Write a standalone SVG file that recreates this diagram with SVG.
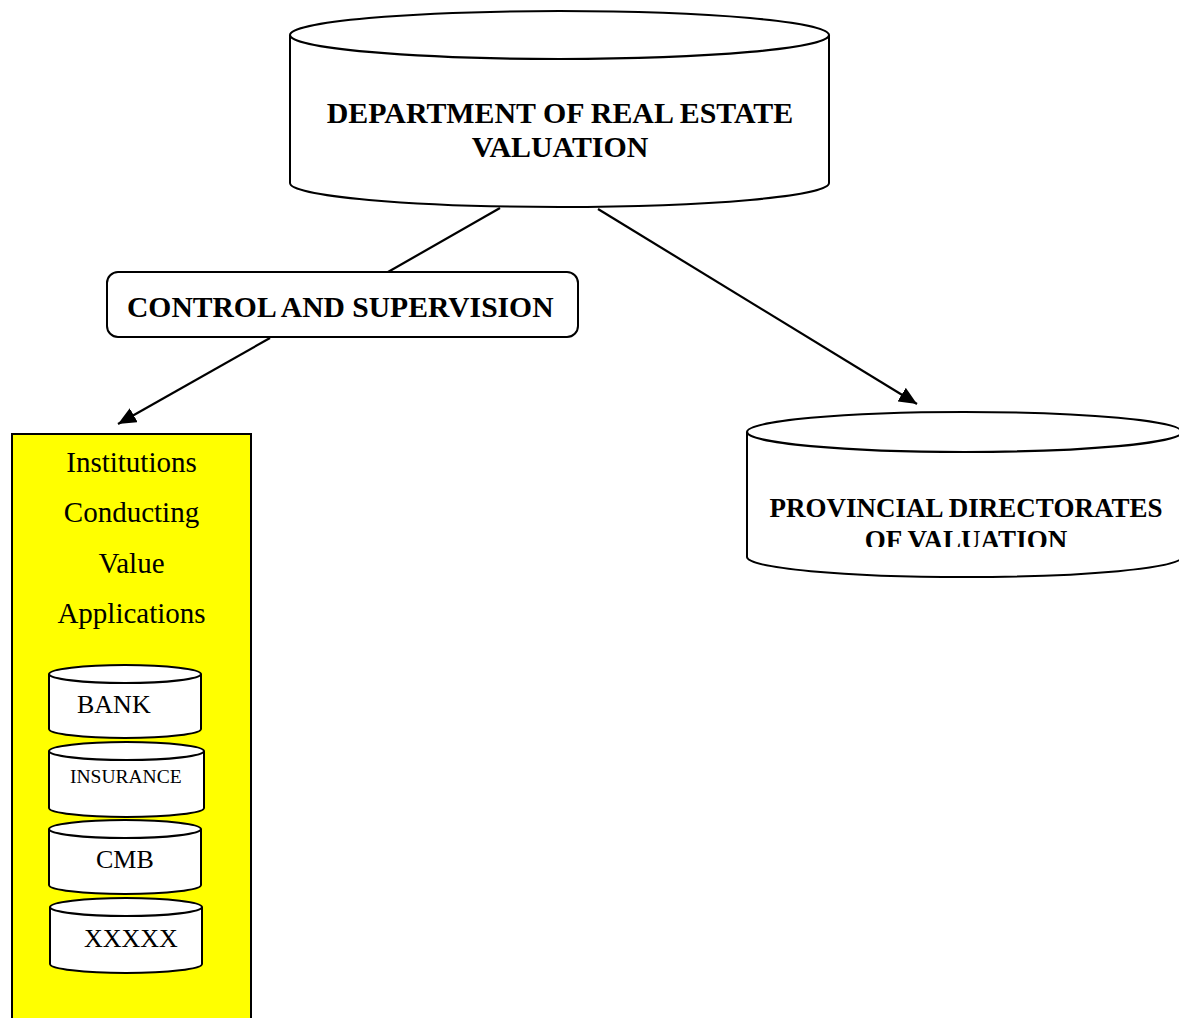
<svg xmlns="http://www.w3.org/2000/svg" width="1179" height="1018" viewBox="0 0 1179 1018">
<style>
.cyl{fill:#fff;stroke:#000;stroke-width:2}
.ln{fill:none;stroke:#000;stroke-width:2.2}
.b{font-family:"Liberation Serif","Times New Roman",serif;font-weight:bold;fill:#000}
.r{font-family:"Liberation Serif","Times New Roman",serif;fill:#000}
</style>
<defs>
<marker id="ah" markerWidth="20" markerHeight="16" refX="18" refY="8" orient="auto" markerUnits="userSpaceOnUse">
<path d="M0,0 L18,8 L0,16 Z" fill="#000"/>
</marker>
<clipPath id="pclip"><rect x="740" y="380" width="439" height="167"/></clipPath>
</defs>
<rect width="1179" height="1018" fill="#fff"/>
<g id="connectors">
<line class="ln" x1="500" y1="208" x2="388" y2="272"/>
<line class="ln" x1="270" y1="338" x2="118" y2="424" marker-end="url(#ah)"/>
<line class="ln" x1="598" y1="209" x2="917" y2="404" marker-end="url(#ah)"/>
</g>
<g id="department">
<path class="cyl" d="M290,35 A269.5,24 0 0,1 829,35 L829,183 A269.5,24 0 0,1 290,183 Z"/>
<path class="ln" d="M290,35 A269.5,24 0 0,0 829,35"/>
<text class="b" font-size="29.9" x="560" y="123" text-anchor="middle">DEPARTMENT OF REAL ESTATE</text>
<text class="b" font-size="29.9" x="560" y="157" text-anchor="middle">VALUATION</text>
</g>
<g id="control">
<rect x="107" y="272" width="471" height="65" rx="11" fill="#fff" stroke="#000" stroke-width="2"/>
<text class="b" font-size="29.6" x="127" y="317">CONTROL AND SUPERVISION</text>
</g>
<g id="provincial">
<path class="cyl" d="M747,432 A217.5,20 0 0,1 1182,432 L1182,557 A217.5,20 0 0,1 747,557 Z"/>
<path class="ln" d="M747,432 A217.5,20 0 0,0 1182,432"/>
<g clip-path="url(#pclip)">
<text class="b" font-size="27" x="966" y="517" text-anchor="middle">PROVINCIAL DIRECTORATES</text>
<text class="b" font-size="27" x="966" y="549" text-anchor="middle">OF VALUATION</text>
</g>
</g>
<g id="institutions">
<rect x="12" y="434" width="239" height="600" fill="#ffff00" stroke="#000" stroke-width="2"/>
<text class="r" font-size="29" x="131.5" y="472" text-anchor="middle">Institutions</text>
<text class="r" font-size="29" x="131.5" y="522" text-anchor="middle">Conducting</text>
<text class="r" font-size="29" x="131.5" y="573" text-anchor="middle">Value</text>
<text class="r" font-size="29" x="131.5" y="623" text-anchor="middle">Applications</text>
</g>
<g id="bank">
<path class="cyl" d="M49,674 A76,9 0 0,1 201,674 L201,729 A76,9 0 0,1 49,729 Z"/>
<path class="ln" d="M49,674 A76,9 0 0,0 201,674"/>
<text class="r" font-size="26" x="77" y="713">BANK</text>
</g>
<g id="insurance">
<path class="cyl" d="M49,751 A77.5,9 0 0,1 204,751 L204,808 A77.5,9 0 0,1 49,808 Z"/>
<path class="ln" d="M49,751 A77.5,9 0 0,0 204,751"/>
<text class="r" font-size="19.5" x="70" y="783">INSURANCE</text>
</g>
<g id="cmb">
<path class="cyl" d="M49,829 A76,9 0 0,1 201,829 L201,885 A76,9 0 0,1 49,885 Z"/>
<path class="ln" d="M49,829 A76,9 0 0,0 201,829"/>
<text class="r" font-size="26" x="96" y="868">CMB</text>
</g>
<g id="xxxxx">
<path class="cyl" d="M50,907 A76,9 0 0,1 202,907 L202,964 A76,9 0 0,1 50,964 Z"/>
<path class="ln" d="M50,907 A76,9 0 0,0 202,907"/>
<text class="r" font-size="26" x="84" y="947">XXXXX</text>
</g>
</svg>
